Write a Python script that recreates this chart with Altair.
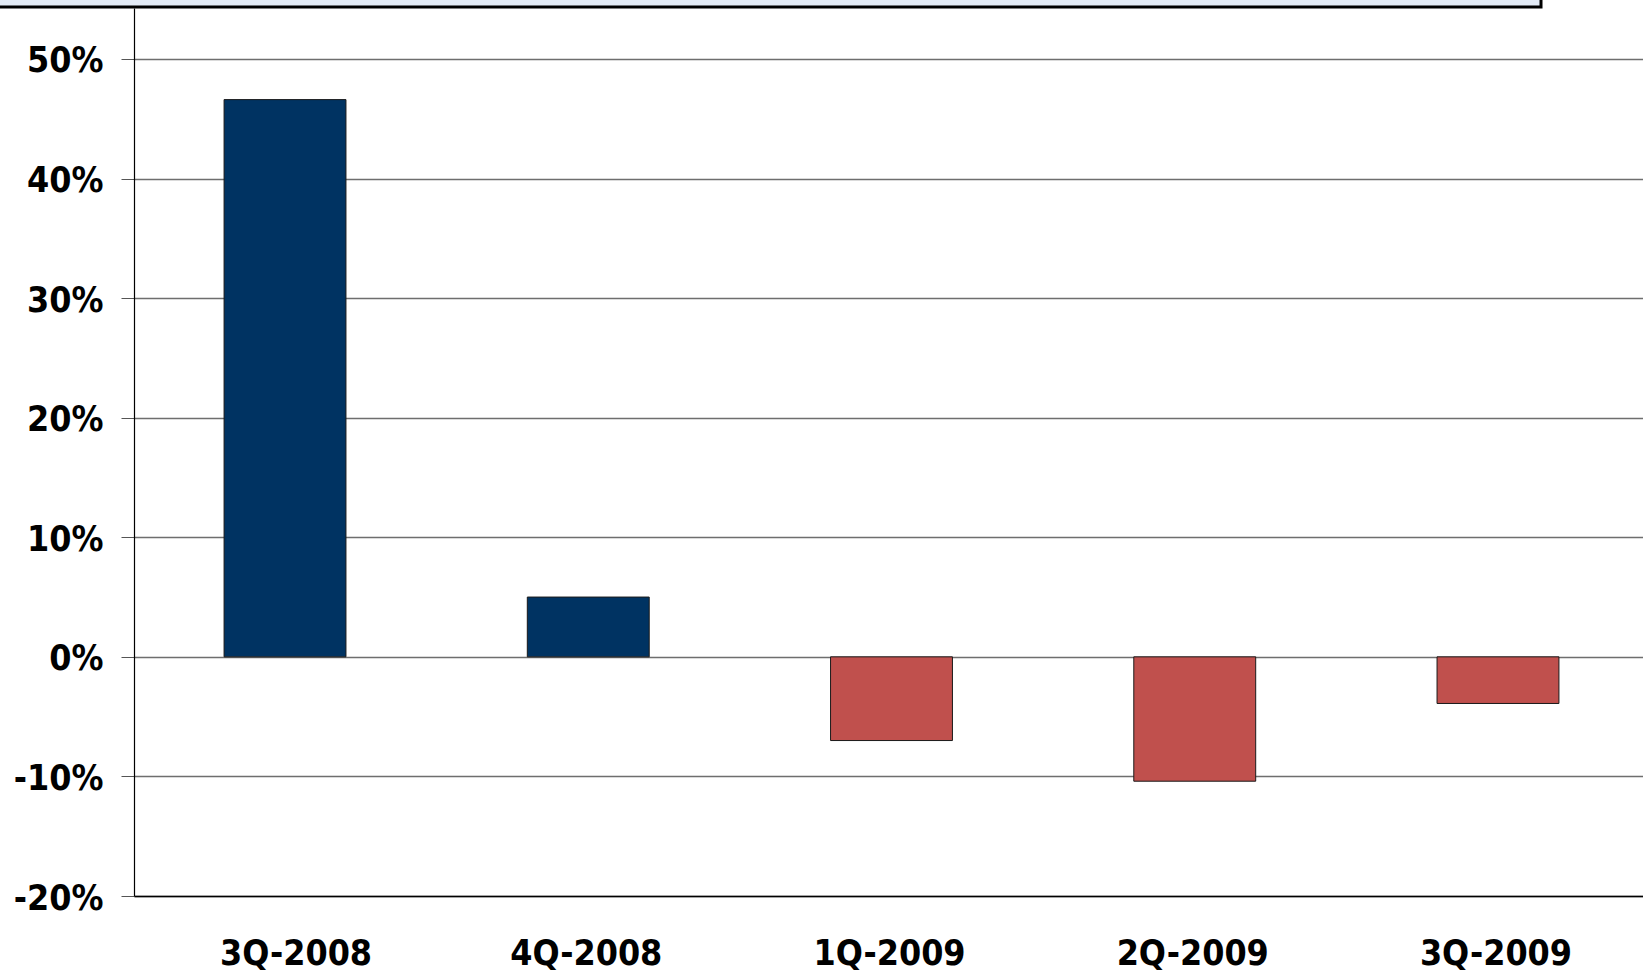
import altair as alt
import pandas as pd

quarters = ["3Q-2008", "4Q-2008", "1Q-2009", "2Q-2009", "3Q-2009"]
changes = [46.6, 5.0, -7.0, -10.4, -3.9]
tick_values = [-20, -10, 0, 10, 20, 30, 40, 50]

df = pd.DataFrame({"quarter": quarters, "change": changes})

FONT = "DejaVu Sans Condensed"
BLUE = "#003362"
RED = "#C0504D"

bars = alt.Chart(df).mark_bar(stroke="#1a1a1a", strokeWidth=1).encode(
    x=alt.X(
        "quarter:N",
        sort=quarters,
        scale=alt.Scale(range=[0, 1515], paddingInner=0.598, paddingOuter=0.297),
        axis=alt.Axis(
            title=None, labelAngle=0, ticks=False, labelPadding=40,
            labelOffset=alt.condition("datum.value == '3Q-2008'", alt.value(11), alt.value(-2)),
            labelFont=FONT, labelFontSize=35.5, labelFontWeight="bold",
            labelColor="black", domainColor="black", domainWidth=1.5,
        ),
    ),
    y=alt.Y(
        "change:Q",
        scale=alt.Scale(domain=[-20, 54.26], nice=False),
        axis=alt.Axis(
            values=tick_values, title=None, labelExpr="datum.value + '%'",
            labelFont=FONT, labelFontSize=35.5, labelFontWeight="bold",
            labelColor="black", labelPadding=18, labelOffset=2, tickSize=13,
            tickColor="#555555", domainColor="black", domainWidth=1.2,
            gridColor="#6e6e6e", gridWidth=1.3,
        ),
    ),
    color=alt.condition("datum.change > 0", alt.value(BLUE), alt.value(RED)),
)

box = alt.Chart(alt.Data(values=[{"a": 1}])).mark_rect(
    fill="#E4ECF7", stroke="black", strokeWidth=3, clip=False
).encode(
    x=alt.value(-150), x2=alt.value(1407), y=alt.value(-30), y2=alt.value(-1)
)

chart = alt.layer(bars, box).properties(
    width=1509,
    height=888,
    padding={"left": 134, "top": 8, "right": 0, "bottom": 75},
    autosize=alt.AutoSizeParams(type="none"),
    background="white",
).configure_view(strokeWidth=0)

chart.save("out.html", embed_options={"renderer": "svg", "actions": False})
